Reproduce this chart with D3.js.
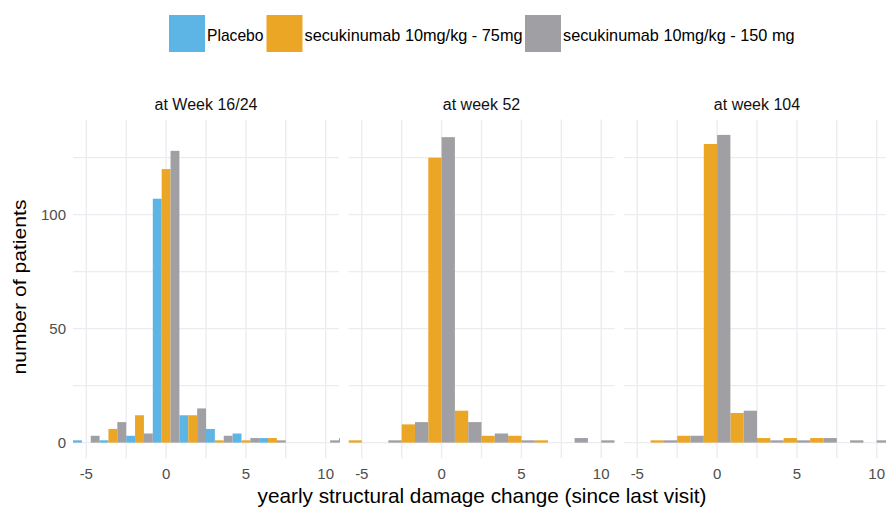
<!DOCTYPE html>
<html>
<head>
<meta charset="utf-8">
<script src="https://cdn.jsdelivr.net/npm/d3@7"></script>
<style>
  body { margin: 0; background: #ffffff; }
  text { font-family: "Liberation Sans", Arial, sans-serif; }
</style>
</head>
<body>
<div id="container"></div>
<script>
let w = 886;
let h = 508;

// DATA (bin centres, binwidth 5/3)
let binCenters = [-5, -10/3, -5/3, 0, 5/3, 10/3, 5, 20/3, 25/3, 10, 35/3];
let binWidth = 5/3;
let groups = ["Placebo", "secukinumab 10mg/kg - 75mg", "secukinumab 10mg/kg - 150 mg"];
let colors = ["#5db5e6", "#eba626", "#a0a0a4"];
let panelTitles = ["at Week 16/24", "at week 52", "at week 104"];

let placeboW16 = [1, 1, 3, 107, 12, 6, 4, 2, 0, 0, 2];
let mg75W16 = [0, 6, 12, 120, 12, 1, 1, 2, 0, 0, 0];
let mg150W16 = [3, 9, 4, 128, 15, 3, 2, 1, 0, 1, 0];
let mg75W52 = [1, 0, 8, 125, 14, 3, 3, 1, 0, 0, 0];
let mg150W52 = [0, 1, 9, 134, 9, 4, 1, 0, 2, 1, 0];
let mg75W104 = [0, 1, 3, 131, 13, 2, 2, 2, 0, 0, 0];
let mg150W104 = [0, 1, 3, 135, 14, 1, 1, 2, 1, 1, 0];

let xTicks = [-5, 0, 5, 10];
let xMinor = [-2.5, 2.5, 7.5];
let yTicks = [0, 50, 100];
let yMinor = [25, 75, 125];

let panels = [
  {title: panelTitles[0], series: [{g: 0, v: placeboW16}, {g: 1, v: mg75W16}, {g: 2, v: mg150W16}]},
  {title: panelTitles[1], series: [{g: 1, v: mg75W52}, {g: 2, v: mg150W52}]},
  {title: panelTitles[2], series: [{g: 1, v: mg75W104}, {g: 2, v: mg150W104}]}
];

let viz = d3.select("#container").append("svg")
    .attr("width", w)
    .attr("height", h)
    .style("background-color", "#ffffff");

let panelLeft = 73;
let panelW = 266;
let panelStep = 275.5;
let panelTop = 119.5;
let panelBottom = 458;

let yMax = d3.max([placeboW16, mg75W16, mg150W16, mg75W52, mg150W52, mg75W104, mg150W104], a => d3.max(a));
let yScale = d3.scaleLinear().domain([-0.05 * yMax, yMax * 1.05]).range([panelBottom, panelTop]);

panels.forEach((p, i) => {
  let x0 = panelLeft + i * panelStep;
  let xScale = d3.scaleLinear()
      .domain([binCenters[0] - binWidth / 2, 10 + binWidth / 2])
      .range([x0, x0 + panelW]);
  let g = viz.append("g");

  g.append("clipPath").attr("id", "clip" + i)
    .append("rect").attr("x", x0).attr("y", panelTop).attr("width", panelW + 1).attr("height", panelBottom - panelTop);

  // grid
  g.selectAll(".vgrid").data(xMinor.concat(xTicks)).enter().append("line")
      .attr("x1", d => xScale(d)).attr("x2", d => xScale(d))
      .attr("y1", panelTop).attr("y2", panelBottom)
      .attr("stroke", "#ebebf0").attr("stroke-width", 1.3);
  g.selectAll(".hgrid").data(yMinor.concat(yTicks)).enter().append("line")
      .attr("x1", x0).attr("x2", x0 + panelW)
      .attr("y1", d => yScale(d)).attr("y2", d => yScale(d))
      .attr("stroke", "#ebebf0").attr("stroke-width", 1.3);

  // bars (dodged)
  let n = p.series.length;
  let barW = binWidth / n;
  let bars = g.append("g").attr("clip-path", "url(#clip" + i + ")");
  p.series.forEach((s, k) => {
    bars.selectAll(".bar" + k).data(s.v.map((v, j) => ({v: v, c: binCenters[j]})).filter(d => d.v > 0))
      .enter().append("rect")
        .attr("x", d => xScale(d.c - binWidth / 2 + k * barW))
        .attr("width", d => xScale(d.c - binWidth / 2 + (k + 1) * barW) - xScale(d.c - binWidth / 2 + k * barW))
        .attr("y", d => yScale(d.v))
        .attr("height", d => yScale(0) - yScale(d.v))
        .attr("fill", colors[s.g]);
  });

  // strip title
  g.append("text")
      .attr("x", x0 + panelW / 2)
      .attr("y", 110)
      .attr("text-anchor", "middle")
      .attr("font-size", 16)
      .attr("fill", "#111")
      .text(p.title);

  // x tick labels
  g.selectAll(".xt").data(xTicks).enter().append("text")
      .attr("x", d => xScale(d))
      .attr("y", 479)
      .attr("text-anchor", "middle")
      .attr("font-size", 15)
      .attr("fill", "#4d4d4d")
      .text(d => d);
});

// y tick labels
viz.selectAll(".yt").data(yTicks).enter().append("text")
    .attr("x", 66)
    .attr("y", d => yScale(d) + 5.5)
    .attr("text-anchor", "end")
    .attr("font-size", 15)
    .attr("fill", "#4d4d4d")
    .text(d => d);

// axis titles
viz.append("text")
    .attr("transform", "translate(26,287) rotate(-90)")
    .attr("text-anchor", "middle")
    .attr("font-size", 19)
    .attr("textLength", 175)
    .attr("lengthAdjust", "spacingAndGlyphs")
    .attr("fill", "#000")
    .text("number of patients");

viz.append("text")
    .attr("x", 482)
    .attr("y", 503)
    .attr("text-anchor", "middle")
    .attr("font-size", 21)
    .attr("textLength", 449)
    .attr("lengthAdjust", "spacingAndGlyphs")
    .attr("fill", "#000")
    .text("yearly structural damage change (since last visit)");

// legend
let legendBoxX = [169, 266.5, 525];
let legendTextW = [56.5, 218, 231.5];
let legend = viz.append("g");
groups.forEach((name, i) => {
  legend.append("rect")
      .attr("x", legendBoxX[i]).attr("y", 15)
      .attr("width", 36).attr("height", 37)
      .attr("fill", colors[i]);
  legend.append("text")
      .attr("x", legendBoxX[i] + 38)
      .attr("y", 41)
      .attr("font-size", 17)
      .attr("textLength", legendTextW[i])
      .attr("lengthAdjust", "spacingAndGlyphs")
      .attr("fill", "#000")
      .text(name);
});
</script>
</body>
</html>
